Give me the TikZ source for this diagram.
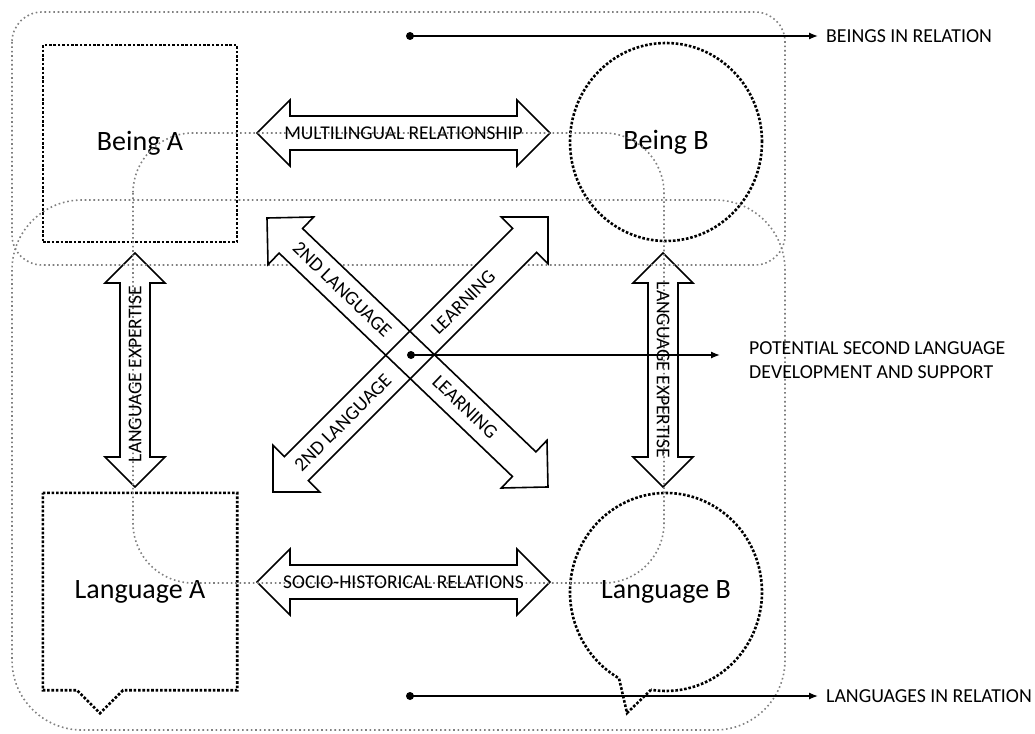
\documentclass[tikz,border=0pt]{standalone}
\usepackage{fontspec}
\setmainfont{Carlito}
\usetikzlibrary{calc,arrows.meta,shapes.geometric}
\tikzset{
  graydot/.style={draw=black!50, line width=1.6pt, dash pattern=on 1.6pt off 2.8pt},
  blackdot/.style={draw=black, line width=2.6pt, dash pattern=on 2.6pt off 1.8pt},
  barrow/.style={draw=black, fill=white, line width=1.6pt, line join=miter},
  bfill/.style={fill=white},
  bline/.style={draw=black, line width=1.6pt, line join=miter},
  arrtext/.style={font=\fontsize{19.5}{22}\selectfont, inner sep=0pt},
  bigtext/.style={font=\fontsize{28}{32}\selectfont},
  annot/.style={font=\fontsize{19.8}{24}\selectfont, anchor=west, align=left, inner sep=0pt},
  pointer/.style={line width=1.3pt, -{Latex[length=9pt,width=7pt]}},
}
\newcommand\blockarrow[6][barrow]{%
  \path let \p1=(#2), \p2=(#3), \n1={atan2(\y2-\y1,\x2-\x1)}, \n2={veclen(\x2-\x1,\y2-\y1)} in
    \pgfextra{\xdef\baang{\n1}\xdef\balen{\n2}};
  \begin{scope}[shift={(#2)}, rotate=\baang, x=1pt, y=1pt]
    \path[#1] (0,0) -- (#4,#5) -- (#4,#6) -- ({\balen-#4},#6) -- ({\balen-#4},#5)
      -- (\balen,0) -- ({\balen-#4},-#5) -- ({\balen-#4},-#6) -- (#4,-#6) -- (#4,-#5) -- cycle;
  \end{scope}}
\begin{document}
\begin{tikzpicture}[x=1pt,y=-1pt]
\useasboundingbox (0,0) rectangle (1035,733);

% beings and languages
\node[blackdot, draw, minimum width=194pt, minimum height=197pt, inner sep=0pt, bigtext] (beingA) at (140,143.5) {Being A};
\node[blackdot, draw, ellipse, minimum width=192pt, minimum height=198pt, inner sep=0pt, bigtext] (beingB) at (666,142) {Being B};
\node[minimum width=194pt, minimum height=197pt, inner sep=0pt, bigtext] (langA) at (140,591.5) {Language A};
\draw[blackdot] (langA.north west) -- (langA.north east) -- (langA.south east)
  -- ($(langA.south)+(-17,0)$) -- ($(langA.south)+(-40,23)$) -- ($(langA.south)+(-63,0)$)
  -- (langA.south west) -- cycle;
\node[ellipse, minimum width=192pt, minimum height=198pt, inner sep=0pt, bigtext] (langB) at (666,592) {Language B};
\draw[blackdot] ($(langB)+(-15,97.8)$) -- ($(langB)+(-39,121)$) -- ($(langB)+(-47,86.3)$)
  arc[start angle=119.3, end angle=459, x radius=96, y radius=99];

% arrow end points
\coordinate (h1a) at (257,133); \coordinate (h1b) at (550,133);
\coordinate (h2a) at (257,582); \coordinate (h2b) at (550,582);
\coordinate (v1a) at (135,487); \coordinate (v1b) at (135,253);
\coordinate (v2a) at (663,253); \coordinate (v2b) at (663,487);
\coordinate (d1a) at (267,218); \coordinate (d1b) at (548,487);
\coordinate (d2a) at (273,492); \coordinate (d2b) at (548,217);
\coordinate (ctr) at (411,355);

% straight block arrows
\blockarrow{h1a}{h1b}{33}{33}{17}
\blockarrow{h2a}{h2b}{33}{33}{17}
\blockarrow{v1a}{v1b}{30}{30}{15}
\blockarrow{v2a}{v2b}{30}{30}{15}

% grey dotted regions
\draw[graydot, rounded corners=30pt] (12,12) rectangle (785,265);
\draw[graydot, rounded corners=70pt] (12,200) rectangle (785,730);
\draw[graydot, rounded corners=60pt] (133,133) rectangle (664,583);

% diagonal block arrows: fills first, then outlines
\blockarrow[bfill]{d1a}{d1b}{33}{33}{17}
\blockarrow[bfill]{d2a}{d2b}{33}{33}{17}
\blockarrow[bline]{d1a}{d1b}{33}{33}{17}
\blockarrow[bline]{d2a}{d2b}{33}{33}{17}

% arrow labels
\node[arrtext] (t1) at ($(h1a)!0.5!(h1b)$) {MULTILINGUAL RELATIONSHIP};
\node[arrtext] (t2) at ($(h2a)!0.5!(h2b)$) {SOCIO-HISTORICAL RELATIONS};
\node[arrtext, rotate=90] (t3) at (135,374) {LANGUAGE EXPERTISE};
\node[arrtext, rotate=-90] (t4) at (663,370) {LANGUAGE EXPERTISE};
\node[arrtext, rotate=-43.8] (t5) at ($(ctr)!95pt!(d1a)$) {2ND LANGUAGE};
\node[arrtext, rotate=-43.8] (t6) at ($(ctr)!75pt!(d1b)$) {LEARNING};
\node[arrtext, rotate=45] (t7) at ($(ctr)!96pt!(d2a)$) {2ND LANGUAGE};
\node[arrtext, rotate=45] (t8) at ($(ctr)!74pt!(d2b)$) {LEARNING};

% annotations
\node[annot] (beings) at (826,36) {BEINGS IN RELATION};
\node[annot] (languages) at (826,696) {LANGUAGES IN RELATION};
\node[annot] (potential) at (749,360) {POTENTIAL SECOND LANGUAGE\\DEVELOPMENT AND SUPPORT};
\coordinate (bdot) at (410,36);
\coordinate (ldot) at (410,696);
\fill (bdot) circle (4pt);
\fill (ldot) circle (4pt);
\fill (ctr) circle (4pt);
\draw[pointer, shorten >=8pt] (bdot) -- (beings.west);
\draw[pointer, shorten >=8pt] (ldot) -- (languages.west);
\draw[pointer, shorten >=29pt] (ctr) -- (ctr -| potential.west);
\end{tikzpicture}
\end{document}
